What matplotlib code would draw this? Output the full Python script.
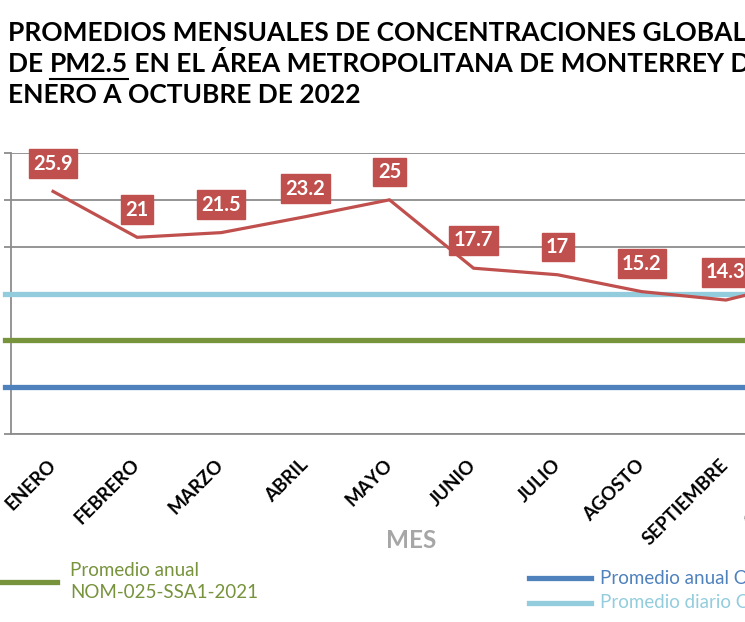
import matplotlib
matplotlib.use("Agg")
import matplotlib.pyplot as plt
from matplotlib.lines import Line2D
from matplotlib.transforms import ScaledTranslation

plt.rcParams['font.family'] = ['Lato', 'DejaVu Sans']

meses = ["ENERO", "FEBRERO", "MARZO", "ABRIL", "MAYO", "JUNIO", "JULIO",
         "AGOSTO", "SEPTIEMBRE", "OCTUBRE"]
pm25 = [25.9, 21, 21.5, 23.2, 25, 17.7, 17, 15.2, 14.3, 16.5]
etiquetas = ["25.9", "21", "21.5", "23.2", "25", "17.7", "17", "15.2", "14.3", "16.5"]
oms_anual = 5
nom_anual = 10
oms_diario = 15
yticks = [0, 5, 10, 15, 20, 25, 30]

W, H = 745, 622
fig = plt.figure(figsize=(W / 100, H / 100), dpi=100)
fig.patch.set_facecolor("white")

left, right, top, bottom = 11, 852, 153, 434
ax = fig.add_axes([left / W, 1 - bottom / H, (right - left) / W, (bottom - top) / H])

x = list(range(len(meses)))
ax.set_xlim(-0.5, len(meses) - 0.5)
ax.set_ylim(0, 30)
ax.set_yticks(yticks)
ax.set_yticklabels([])
ax.tick_params(axis='y', length=5, width=1.3, color="#8C8C8C")
ax.grid(axis='y', color="#8C8C8C", lw=1.3)
ax.set_axisbelow(True)
for s in ["top", "right"]:
    ax.spines[s].set_visible(False)
for s in ["left", "bottom"]:
    ax.spines[s].set_color("#8C8C8C")
    ax.spines[s].set_linewidth(1.3)

# reference lines
ax.axhline(oms_diario, xmin=-0.007, xmax=1, color="#93CDDD", lw=3.8, clip_on=False, zorder=3)
ax.axhline(nom_anual, xmin=-0.007, xmax=1, color="#77933C", lw=3.8, clip_on=False, zorder=3)
ax.axhline(oms_anual, xmin=-0.007, xmax=1, color="#4F81BD", lw=3.8, clip_on=False, zorder=3)

ax.plot(x, pm25, color="#C0504D", lw=2.3, zorder=4, solid_joinstyle='miter')
for xi, yi, lab in zip(x, pm25, etiquetas):
    ax.annotate(lab, (xi, yi), xytext=(0, 20), textcoords="offset points",
                ha="center", va="center", color="white", fontsize=14.5, fontweight="bold",
                bbox=dict(boxstyle="square,pad=0.22", fc="#C0504D", ec="#C0504D"), zorder=5)

ax.set_xticks(x)
ax.set_xticklabels(meses, rotation=45, ha="right", va="top", fontsize=13.5,
                   fontweight="bold", rotation_mode="default")
ax.tick_params(axis='x', length=0, pad=16)
shift = ScaledTranslation(6 / 100, 0, fig.dpi_scale_trans)
for lbl in ax.get_xticklabels():
    lbl.set_transform(lbl.get_transform() + shift)

fig.text(411 / W, 1 - 540 / H, "MES", ha="center", va="center", fontsize=17.5,
         fontweight="bold", color="#A6A6A6")

# title
fs_t = 19
ys = [1 - 33 / H, 1 - 64 / H, 1 - 95 / H]
fig.text(8 / W, ys[0], "PROMEDIOS MENSUALES DE CONCENTRACIONES GLOBALES",
         fontsize=fs_t, fontweight="bold", va="center", ha="left")
r = fig.canvas.get_renderer()
t1 = fig.text(8 / W, ys[1], "DE ", fontsize=fs_t, fontweight="bold", va="center", ha="left")
bb = t1.get_window_extent(r)
t2 = fig.text(bb.x1 / W, ys[1], "PM2.5", fontsize=fs_t, fontweight="bold", va="center", ha="left")
bb2 = t2.get_window_extent(r)
fig.add_artist(Line2D([bb2.x0 / W, bb2.x1 / W], [1 - 79 / H, 1 - 79 / H], color="black", lw=1.5))
fig.text(bb2.x1 / W, ys[1], " EN EL ÁREA METROPOLITANA DE MONTERREY DE",
         fontsize=fs_t, fontweight="bold", va="center", ha="left")
fig.text(8 / W, ys[2], "ENERO A OCTUBRE DE 2022", fontsize=fs_t, fontweight="bold",
         va="center", ha="left")

# legend
fig.add_artist(Line2D([0, 57 / W], [1 - 582 / H] * 2, color="#77933C", lw=3.8))
fig.text(70 / W, 1 - 571 / H, "Promedio anual", fontsize=13.5, color="#77933C", va="center")
fig.text(70 / W, 1 - 593 / H, "NOM-025-SSA1-2021", fontsize=13.5, color="#77933C", va="center")
fig.add_artist(Line2D([529 / W, 591 / W], [1 - 578 / H] * 2, color="#4F81BD", lw=3.8))
fig.text(600 / W, 1 - 578 / H, "Promedio anual OMS", fontsize=13.5, color="#4F81BD", va="center")
fig.add_artist(Line2D([529 / W, 591 / W], [1 - 603 / H] * 2, color="#93CDDD", lw=3.8))
fig.text(600 / W, 1 - 603 / H, "Promedio diario OMS", fontsize=13.5, color="#93CDDD", va="center")

fig.savefig("out.png", dpi=100)
